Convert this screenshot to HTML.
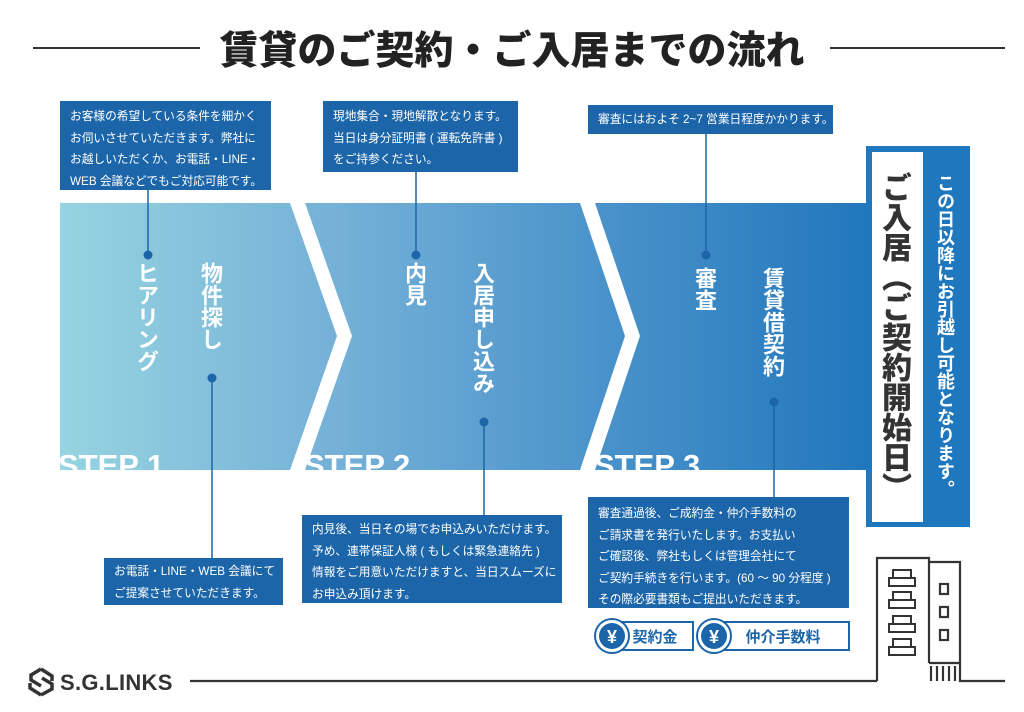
<!DOCTYPE html>
<html><head><meta charset="utf-8"><style>
body{margin:0;background:#fff;}
#w{position:relative;width:1024px;height:712px;overflow:hidden;background:#fff;font-family:"Liberation Sans","Noto Sans CJK JP",sans-serif;}
.a{position:absolute;}
.box{position:absolute;background:#1c65a9;color:#fff;font-size:11.7px;line-height:21.5px;padding:5px 0 0 10px;box-sizing:border-box;white-space:nowrap;overflow:hidden;}
.v{position:absolute;writing-mode:vertical-rl;color:#fff;font-weight:bold;font-family:"Noto Sans CJK JP",sans-serif;white-space:nowrap;}
</style></head><body><div id="w">
<svg class="a" style="left:0;top:0" width="1024" height="712">
<defs>
<linearGradient id="g" x1="60" x2="866" y1="0" y2="0" gradientUnits="userSpaceOnUse">
<stop offset="0" stop-color="#96d4e1"/><stop offset="0.35" stop-color="#74b0d7"/><stop offset="0.68" stop-color="#4992ca"/><stop offset="1" stop-color="#2277bc"/>
</linearGradient>
<clipPath id="c"><polygon points="60,203 290,203 337,336 290,470 60,470"/><polygon points="305,203 580,203 625,336 580,470 305,470 352,336"/><polygon points="595,203 866,203 866,470 595,470 640,336"/></clipPath>
</defs>
<line x1="33" y1="48" x2="200" y2="48" stroke="#333" stroke-width="2"/>
<line x1="830" y1="48" x2="1005" y2="48" stroke="#333" stroke-width="2"/>
<g fill="url(#g)">
<polygon points="60,203 290,203 337,336 290,470 60,470"/>
<polygon points="305,203 580,203 625,336 580,470 305,470 352,336"/>
<polygon points="595,203 866,203 866,470 595,470 640,336"/>
</g>
<g clip-path="url(#c)" fill="#fff" font-family="Liberation Sans" font-weight="bold" font-size="31">
<text x="58" y="476">STEP 1</text><text x="304" y="476">STEP 2</text><text x="594" y="476">STEP 3</text>
</g>
<g stroke="#1c65a9" stroke-width="1.5">
<line x1="148" y1="190" x2="148" y2="255"/><line x1="416" y1="172" x2="416" y2="255"/><line x1="706" y1="134" x2="706" y2="255"/>
<line x1="212" y1="378" x2="212" y2="558"/><line x1="484" y1="422" x2="484" y2="515"/><line x1="774" y1="402" x2="774" y2="497"/>
</g>
<g fill="#1c65a9">
<circle cx="148" cy="255" r="4.5"/><circle cx="416" cy="255" r="4.5"/><circle cx="706" cy="255" r="4.5"/>
<circle cx="212" cy="378" r="4.5"/><circle cx="484" cy="422" r="4.5"/><circle cx="774" cy="402" r="4.5"/>
</g>
<rect x="866" y="146" width="104" height="381" fill="#1f77bd"/>
<rect x="872" y="152" width="51" height="370" fill="#fff"/>
<g fill="#fff" stroke="#1c65a9" stroke-width="2">
<rect x="612" y="622" width="81" height="28"/><rect x="714" y="622" width="135" height="28"/>
<circle cx="612" cy="636" r="17"/><circle cx="714" cy="636" r="17"/>
</g>
<g fill="#1c65a9"><circle cx="612" cy="636" r="13"/><circle cx="714" cy="636" r="13"/></g>
<g fill="#fff" font-family="Liberation Sans" font-weight="bold" font-size="18" text-anchor="middle"><text x="612" y="643">¥</text><text x="714" y="643">¥</text></g>
<g fill="#1c65a9" font-family="Noto Sans CJK JP" font-weight="bold" font-size="15" text-anchor="middle"><text x="655" y="642">契約金</text><text x="783" y="642">仲介手数料</text></g>
<g stroke="#333" stroke-width="2.2" fill="none">
<line x1="190" y1="681" x2="877" y2="681"/>
<polyline points="877,681 877,558 929,558 929,663"/>
<polyline points="929,562 960,562 960,681 1005,681"/>
<line x1="929" y1="663" x2="960" y2="663"/>
<line x1="931" y1="666" x2="931" y2="681"/><line x1="937" y1="666" x2="937" y2="681"/><line x1="943" y1="666" x2="943" y2="681"/><line x1="949" y1="666" x2="949" y2="681"/><line x1="955" y1="666" x2="955" y2="681"/>
<g stroke-width="2"><rect x="889" y="578" width="26" height="8"/><rect x="893" y="570" width="18" height="8"/>
<rect x="889" y="600" width="26" height="8"/><rect x="893" y="592" width="18" height="8"/>
<rect x="889" y="624" width="26" height="8"/><rect x="893" y="616" width="18" height="8"/>
<rect x="889" y="647" width="26" height="8"/><rect x="893" y="639" width="18" height="8"/></g>
<rect x="940" y="584" width="8" height="10"/><rect x="940" y="607" width="8" height="10"/><rect x="940" y="630" width="8" height="10"/>
</g>
<g fill="none" stroke="#333" stroke-width="3.5"><path d="M41,669 L52,676 L52,681 M41,669 L31,675 L31,680 L41,686"/><path d="M41,695 L30,688 L30,683 M41,695 L52,689 L52,684 L42,678"/></g>
<text x="60" y="690" font-family="Liberation Sans" font-weight="bold" font-size="22" letter-spacing="0.3" fill="#333">S.G.LINKS</text>
</svg>
<div class="a" style="left:0;width:1024px;top:22px;text-align:center;font-size:39px;font-weight:900;color:#222;font-family:'Noto Sans CJK JP',sans-serif;line-height:52px">賃貸のご契約・ご入居までの流れ</div>
<div class="box" style="left:60px;top:101px;width:211px;height:89px">お客様の希望している条件を細かく<br>お伺いさせていただきます。弊社に<br>お越しいただくか、お電話・LINE・<br>WEB 会議などでもご対応可能です。</div>
<div class="box" style="left:323px;top:101px;width:195px;height:71px">現地集合・現地解散となります。<br>当日は身分証明書 ( 運転免許書 )<br>をご持参ください。</div>
<div class="box" style="left:588px;top:105px;width:245px;height:29px;padding-top:4px">審査にはおよそ 2~7 営業日程度かかります。</div>
<div class="box" style="left:104px;top:558px;width:179px;height:47px;padding-top:3px">お電話・LINE・WEB 会議にて<br>ご提案させていただきます。</div>
<div class="box" style="left:302px;top:515px;width:260px;height:88px;padding-top:4px">内見後、当日その場でお申込みいただけます。<br>予め、連帯保証人様 ( もしくは緊急連絡先 )<br>情報をご用意いただけますと、当日スムーズに<br>お申込み頂けます。</div>
<div class="box" style="left:588px;top:497px;width:261px;height:111px;padding-top:6px">審査通過後、ご成約金・仲介手数料の<br>ご請求書を発行いたします。お支払い<br>ご確認後、弊社もしくは管理会社にて<br>ご契約手続きを行います。(60 ～ 90 分程度 )<br>その際必要書類もご提出いただきます。</div>
<div class="v" style="left:136px;top:262px;font-size:22px;line-height:24px">ヒアリング</div>
<div class="v" style="left:200px;top:262px;font-size:22px;line-height:24px">物件探し</div>
<div class="v" style="left:404px;top:262px;font-size:22px;line-height:24px">内見</div>
<div class="v" style="left:472px;top:262px;font-size:22px;line-height:24px">入居申し込み</div>
<div class="v" style="left:694px;top:267px;font-size:22px;line-height:24px">審査</div>
<div class="v" style="left:762px;top:267px;font-size:22px;line-height:24px">賃貸借契約</div>
<div class="v" style="left:879px;top:172px;font-size:30px;line-height:36px;color:#333;font-weight:900">ご入居（ご契約開始日）</div>
<div class="v" style="left:935px;top:174px;font-size:18px;line-height:22px">この日以降にお引越し可能となります。</div>
</div></body></html>
